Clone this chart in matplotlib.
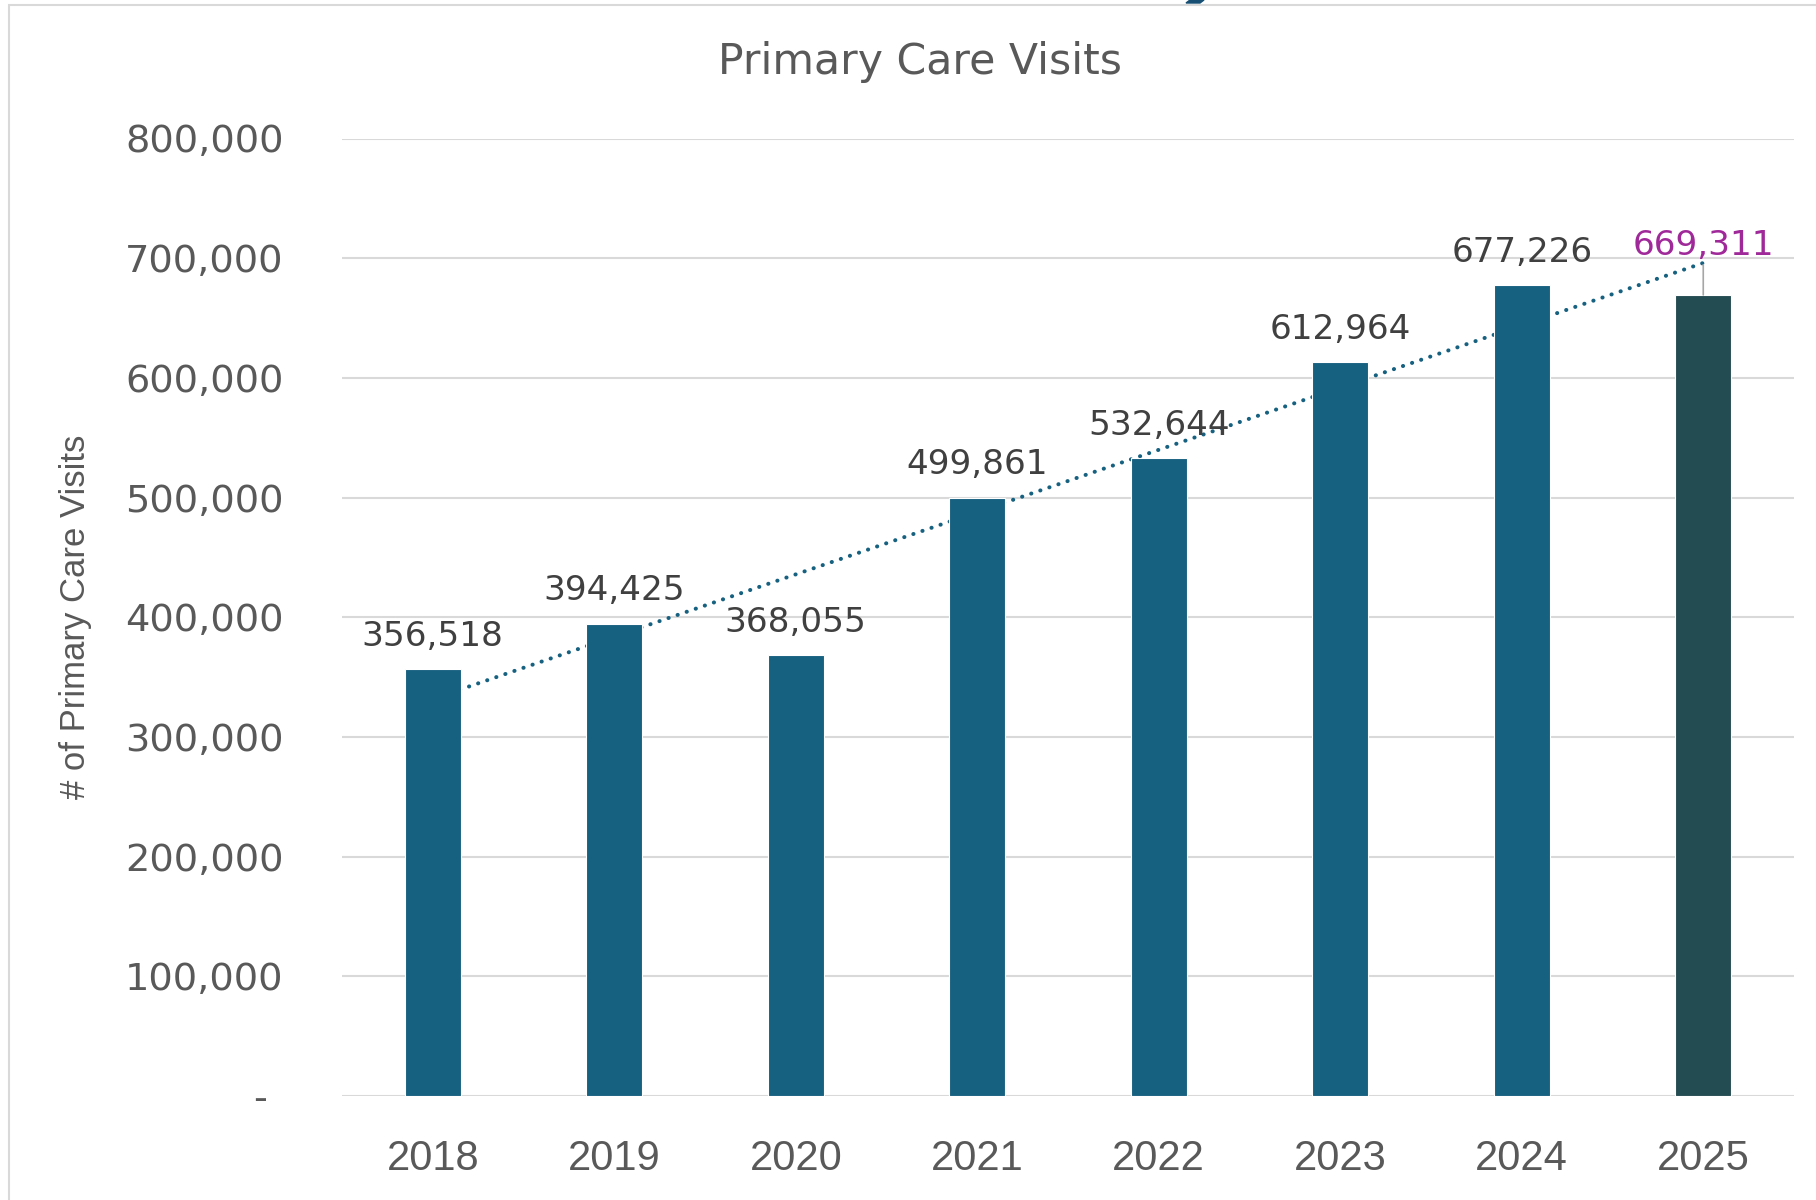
import matplotlib
matplotlib.use('Agg')
import matplotlib.pyplot as plt
import matplotlib.patches as mpatches
import matplotlib.transforms as mtransforms
import numpy as np

years = ['2018', '2019', '2020', '2021', '2022', '2023', '2024', '2025']
visits = [356518, 394425, 368055, 499861, 532644, 612964, 677226, 669311]
ytick_vals = [0, 100000, 200000, 300000, 400000, 500000, 600000, 700000, 800000]

BAR = '#166080'
BAR_LAST = '#234C52'
GRID = '#D9D9D9'
TXT = '#595959'
LBL = '#404040'
HILITE = '#A0299A'

W, H = 1816, 1200
fig = plt.figure(figsize=(W / 100, H / 100), dpi=100)
ax = fig.add_axes([342 / W, 1 - 1096 / H, (1794 - 342) / W, (1096 - 138.5) / H])

x = np.arange(len(years))
colors = [BAR] * (len(years) - 1) + [BAR_LAST]
ax.bar(x, visits, width=0.31, color=colors, edgecolor='white', linewidth=0.8, zorder=3)

# linear trendline over the yearly totals, round dots
coef = np.polyfit(x, visits, 1)
ax.plot(x, np.polyval(coef, x), color=BAR, linewidth=2.9, dashes=(0.05, 2.33),
        dash_capstyle='round', zorder=2)

for i, v in enumerate(visits[:-1]):
    ax.annotate(f'{v:,}', xy=(i, v), xytext=(0, 17), textcoords='offset points',
                ha='center', va='baseline', fontsize=24.7, color=LBL,
                family='DejaVu Sans', zorder=5)
ax.annotate(f'{visits[-1]:,}', xy=(x[-1], visits[-1]), xytext=(0, 28.8),
            textcoords='offset points', ha='center', va='baseline', fontsize=24.7,
            color=HILITE, family='DejaVu Sans', zorder=5,
            arrowprops=dict(arrowstyle='-', color='#A6A6A6', lw=1.2,
                            shrinkA=0, shrinkB=0))

ax.set_xlim(-0.5, 7.5)
ax.set_ylim(0, 800000)
ax.set_xticks(x)
ax.set_xticklabels(years, fontsize=30, color=TXT, family='Liberation Sans')
ax.set_yticks(ytick_vals)
ax.set_yticklabels(['-'] + [f'{v:,}' for v in ytick_vals[1:]], fontsize=27.6,
                   color=TXT, family='DejaVu Sans')
ax.tick_params(axis='both', length=0)
ax.tick_params(axis='y', pad=42)
ax.tick_params(axis='x', pad=31)
ax.yaxis.grid(True, color=GRID, linewidth=1.5)
ax.set_axisbelow(True)
for s in ax.spines.values():
    s.set_visible(False)

# the zero label sits further left, accounting-format style
zero_lbl = ax.get_yticklabels()[0]
zero_lbl.set_transform(zero_lbl.get_transform() +
                       mtransforms.ScaledTranslation(-0.17, 0, fig.dpi_scale_trans))

fig.text(76 / W, 1 - 617 / H, '# of Primary Care Visits', rotation=90, ha='center',
         va='center', fontsize=25, color=TXT, family='Liberation Sans')
fig.text(920 / W, 1 - 74 / H, 'Primary Care Visits', ha='center', va='baseline',
         fontsize=30.7, color=TXT, family='DejaVu Sans')

# chart area frame and the edge of the element above it
fig.patches.append(mpatches.Rectangle((9 / W, -0.05), 1.1, 1.05 - 5 / H, fill=False,
                                      edgecolor=GRID, linewidth=1.5,
                                      transform=fig.transFigure, figure=fig))
fig.patches.append(mpatches.Polygon([(1190 / W, 1.0), (1204 / W, 1.0),
                                     (1200 / W, 1 - 3 / H), (1186 / W, 1 - 3 / H)],
                                    closed=True, color='#164F73',
                                    transform=fig.transFigure, figure=fig))

fig.savefig('out.png', dpi=100, facecolor='white')
